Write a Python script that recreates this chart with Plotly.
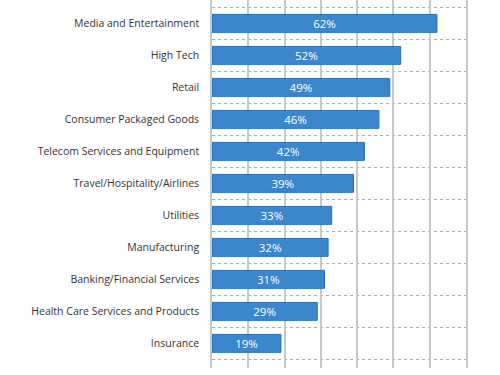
import plotly.graph_objects as go

categories = [
    "Media and Entertainment",
    "High Tech",
    "Retail",
    "Consumer Packaged Goods",
    "Telecom Services and Equipment",
    "Travel/Hospitality/Airlines",
    "Utilities",
    "Manufacturing",
    "Banking/Financial Services",
    "Health Care Services and Products",
    "Insurance",
]
values = [62, 52, 49, 46, 42, 39, 33, 32, 31, 29, 19]
labels = [f"{v}%" for v in values]
positions = list(range(len(categories)))

fig = go.Figure(
    go.Bar(
        x=values,
        y=positions,
        orientation="h",
        width=0.56,
        marker=dict(color="#3a87cc", line=dict(color="#2270bd", width=1)),
        text=labels,
        textposition="inside",
        insidetextanchor="middle",
        constraintext="none",
        textfont=dict(color="white", size=11.5, family="Open Sans"),
        hoverinfo="skip",
    )
)

fig.update_layout(
    width=500,
    height=375,
    margin=dict(l=212, r=34, t=0, b=7, autoexpand=False),
    paper_bgcolor="white",
    plot_bgcolor="white",
    showlegend=False,
    font=dict(family="Open Sans", size=10.5, color="#333333"),
    xaxis=dict(
        range=[0, 70],
        dtick=10,
        tick0=0,
        showgrid=True,
        gridcolor="#c8c8c8",
        gridwidth=1.5,
        zeroline=False,
        showticklabels=False,
        ticks="",
        showline=False,
        automargin=False,
    ),
    yaxis=dict(
        range=[10.77, -0.73],
        tickmode="array",
        tickvals=positions,
        ticktext=categories,
        showgrid=False,
        zeroline=False,
        ticks="",
        ticklabelstandoff=9,
        showline=True,
        mirror=True,
        linecolor="#c8c8c8",
        linewidth=1.5,
        automargin=False,
        minor=dict(
            tickmode="linear",
            tick0=0.5,
            dtick=1,
            showgrid=True,
            gridcolor="#aaaaaa",
            griddash="dot",
            gridwidth=1,
            ticks="",
        ),
    ),
)

fig.write_html(
    "out.html",
    config={"displayModeBar": False},
    post_script="document.body.style.margin='0';",
)
